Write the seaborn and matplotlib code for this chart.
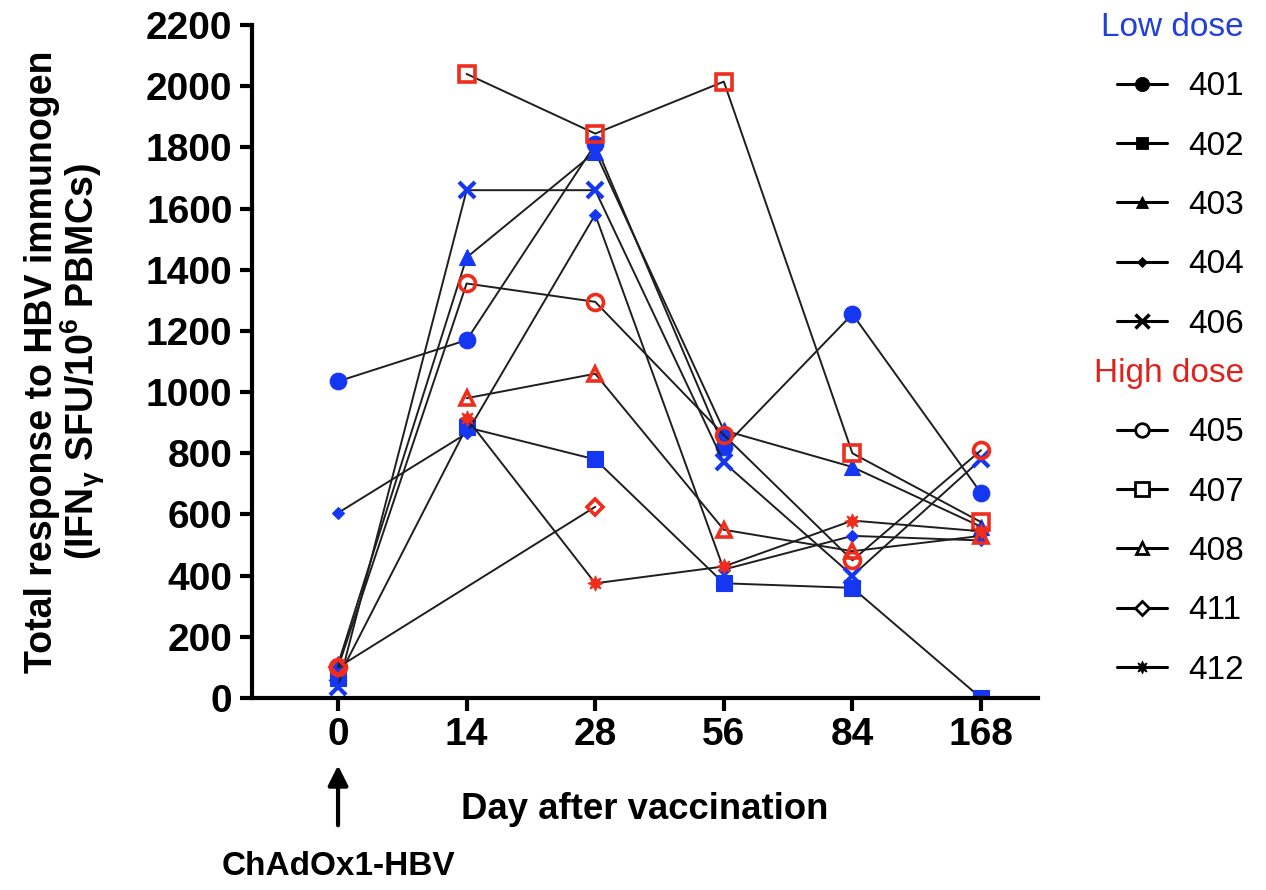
import numpy as np
import pandas as pd
import matplotlib
matplotlib.use("Agg")
import matplotlib.pyplot as plt
import seaborn as sns
from matplotlib.lines import Line2D

# ---------------- data ----------------
days = [0, 14, 28, 56, 84, 168]
nan = np.nan

low_ids = ["401", "402", "403", "404", "406"]
high_ids = ["405", "407", "408", "411", "412"]

v401 = [1035, 1170, 1810, 820, 1255, 670]
v402 = [65, 885, 780, 375, 360, 0]
v403 = [110, 1440, 1785, 875, 755, 560]
v404 = [605, 865, 1580, 420, 530, 515]
v406 = [35, 1660, 1660, 770, 400, 780]

v405 = [100, 1355, 1295, 860, 450, 810]
v407 = [nan, 2040, 1845, 2015, 800, 575]
v408 = [nan, 980, 1060, 550, 480, 530]
v411 = [100, nan, 625, nan, nan, nan]
v412 = [nan, 915, 375, 430, 580, 545]

series = {"401": v401, "402": v402, "403": v403, "404": v404, "406": v406,
          "405": v405, "407": v407, "408": v408, "411": v411, "412": v412}

yticks = list(range(0, 2201, 200))

# ---------------- styles ----------------
BLUE = "#1637f2"
RED = "#ee2d1c"
LINE = "#1e1e1e"
markers = {"401": "o", "402": "s", "403": "^", "404": "D", "406": "x",
           "405": "o", "407": "s", "408": "^", "411": "D", "412": (8, 1, 0)}
msizes = {"401": 12, "402": 11, "403": 11, "404": 6.5, "406": 12,
          "405": 11.5, "407": 11.5, "408": 10.5, "411": 8.5, "412": 11}
filled_ids = set(low_ids) | {"412"}

sns.set_theme(style="ticks")
plt.rcParams["font.family"] = ["Liberation Sans", "DejaVu Sans"]
plt.rcParams["mathtext.fontset"] = "custom"
plt.rcParams["mathtext.rm"] = "Liberation Sans:bold"
plt.rcParams["mathtext.it"] = "Liberation Sans:bold"
plt.rcParams["mathtext.bf"] = "Liberation Sans:bold"
plt.rcParams["mathtext.default"] = "rm"
for k in ["text.color", "axes.labelcolor", "xtick.color", "ytick.color",
          "axes.edgecolor"]:
    plt.rcParams[k] = "black"

W, H = 1266, 890
fig = plt.figure(figsize=(W / 100, H / 100), dpi=100)
ax = fig.add_axes([252 / W, 1 - 698 / H, (1038 - 252) / W, (698 - 25) / H])

records = []
for sid, vals in series.items():
    for i, (d, v) in enumerate(zip(days, vals)):
        if not np.isnan(v):
            records.append({"subject": sid, "day": d, "pos": i, "value": v})
df = pd.DataFrame(records)

for sid in low_ids + high_ids:
    sub = df[df["subject"] == sid]
    col = BLUE if sid in low_ids else RED
    m = markers[sid]
    if sid in filled_ids:
        fc = col
        mew = 3 if m == "x" else 0.8
    else:
        fc = "none"
        mew = 2.6
    sns.lineplot(data=sub, x="pos", y="value", estimator=None, errorbar=None,
                 sort=True, color=LINE, lw=1.4, marker=m, markersize=msizes[sid],
                 markerfacecolor=fc, markeredgecolor=col, markeredgewidth=mew,
                 ax=ax, legend=False)

# ---------------- axes ----------------
ax.set_xlim(-0.669, 5.443)
ax.set_ylim(0, 2200)
ax.set_yticks(yticks)
ax.set_yticklabels([str(t) for t in yticks])
ax.set_xticks(range(len(days)))
ax.set_xticklabels([str(d) for d in days])
for s in ["top", "right"]:
    ax.spines[s].set_visible(False)
for s in ["left", "bottom"]:
    ax.spines[s].set_linewidth(3)
    ax.spines[s].set_color("black")
ax.tick_params(axis="both", length=9, width=3, color="black", labelcolor="black",
               labelsize=28, pad=5)
for lab in ax.get_xticklabels() + ax.get_yticklabels():
    lab.set_fontweight("bold")

ax.set_xlabel("Day after vaccination", fontsize=26.3, fontweight="bold",
              labelpad=28)
ax.set_ylabel("Total response to HBV immunogen\n(IFN$_{γ}$ SFU/10$^{6}$ PBMCs)",
              fontsize=27, fontweight="bold", linespacing=0.95, labelpad=28)

ax.annotate("ChAdOx1-HBV", xy=(0, -0.10), xycoords=("data", "axes fraction"),
            xytext=(0, -0.25), textcoords=("data", "axes fraction"),
            ha="center", va="center", fontsize=24, fontweight="bold",
            annotation_clip=False,
            arrowprops=dict(arrowstyle="-|>", color="black", lw=3,
                            mutation_scale=30, shrinkA=16, shrinkB=0))

# ---------------- legends ----------------
def handle(sid):
    m = markers[sid]
    filled = sid in filled_ids
    return Line2D([0], [0], color="black", lw=2.2, marker=m,
                  markersize=msizes[sid] * 0.85,
                  markerfacecolor="black" if filled else "white",
                  markeredgecolor="black",
                  markeredgewidth=(2.5 if m == "x" else (0.6 if filled else 2)))

leg_kw = dict(frameon=False, fontsize=24, handlelength=1.5, handletextpad=0.65,
              labelspacing=0.85, borderpad=0, borderaxespad=0,
              alignment="right", loc="upper right",
              bbox_transform=fig.transFigure, title_fontsize=24,
              labelcolor="black")
leg1 = ax.legend([handle(s) for s in low_ids], low_ids, title="Low dose",
                 bbox_to_anchor=(1244 / W, 1 - 12 / H), **leg_kw)
leg1.get_title().set_color("#2140d8")
ax.add_artist(leg1)
leg2 = ax.legend([handle(s) for s in high_ids], high_ids, title="High dose",
                 bbox_to_anchor=(1244 / W, 1 - 358 / H), **leg_kw)
leg2.get_title().set_color("#e0221c")

fig.savefig("out.png", dpi=100)
